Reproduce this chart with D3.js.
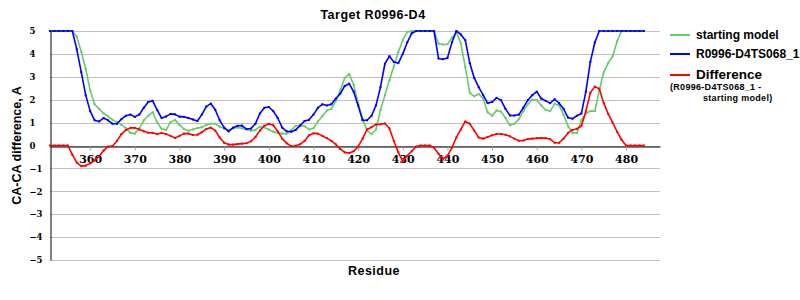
<!DOCTYPE html>
<html>
<head>
<meta charset="utf-8">
<script src="https://d3js.org/d3.v7.min.js"></script>
<style>
  body { margin: 0; background: #fff; }
  svg { display: block; }
  .sans { font-family: "Liberation Sans", Arial, sans-serif; font-weight: bold; }
  .serif { font-family: "DejaVu Serif", serif; font-weight: bold; }
</style>
</head>
<body>
<div id="chart"></div>
<script>
// Chart data
// ==============================
var firstResidue = 351;
var xTicks = [360, 370, 380, 390, 400, 410, 420, 430, 440, 450, 460, 470, 480];
var yTicks = [-5, -4, -3, -2, -1, 0, 1, 2, 3, 4, 5];

var startingModel = [
  5, 5, 5, 5, 5, 5, 4.75, 4.1, 3.35, 2.4,
  1.8, 1.6, 1.4, 1.27, 1.12, 1.02, 0.9, 0.76, 0.55, 0.52,
  0.75, 1.1, 1.3, 1.45, 1.0, 0.73, 0.68, 1.02, 1.12, 0.9,
  0.72, 0.64, 0.7, 0.76, 0.8, 0.9, 0.95, 0.95, 0.82, 0.74,
  0.67, 0.75, 0.79, 0.75, 0.7, 0.65, 0.68, 0.82, 0.79, 0.7,
  0.6, 0.55, 0.52, 0.52, 0.66, 0.85, 0.87, 0.84, 0.7, 0.75,
  1.05, 1.28, 1.53, 1.6, 1.95, 2.4, 2.95, 3.12, 2.65, 1.85,
  1.15, 0.65, 0.5, 0.7, 1.55, 2.2, 2.85, 3.45, 4.08, 4.6,
  4.95, 5, 5, 5, 5, 5, 5, 4.45, 4.41, 4.42,
  4.7, 4.95, 4.45, 3.42, 2.3, 2.15, 2.25, 2.05, 1.45, 1.3,
  1.53, 1.48, 1.2, 0.88, 0.95, 1.15, 1.5, 1.8, 2.0, 1.98,
  1.75, 1.55, 1.5, 1.82, 1.75, 1.35, 0.85, 0.55, 0.55, 1.1,
  1.4, 1.5, 1.5, 2.4, 3.2, 3.6, 3.9, 4.55, 5, 5,
  5, 5, 5, 5
];

var model = [
  5, 5, 5, 5, 5, 5, 4.2, 3.2, 2.2, 1.5,
  1.1, 1.05, 1.2, 1.1, 0.95, 0.95, 1.15, 1.3, 1.35, 1.25,
  1.35, 1.65, 1.9, 1.95, 1.55, 1.2, 1.27, 1.38, 1.36, 1.26,
  1.25, 1.2, 1.14, 1.07, 1.35, 1.7, 1.83, 1.56, 1.1, 0.78,
  0.62, 0.78, 0.86, 0.87, 0.72, 0.74, 0.95, 1.4, 1.65, 1.68,
  1.5, 1.2, 0.78, 0.62, 0.6, 0.68, 0.87, 1.07, 1.12, 1.35,
  1.65, 1.8, 1.75, 1.8, 2.05, 2.26, 2.6, 2.7, 2.35, 1.75,
  1.1, 1.1, 1.3, 1.75, 2.55, 3.57, 3.9, 3.65, 3.6, 4.0,
  4.5, 4.9, 5, 5, 5, 5, 5, 3.8, 3.77, 3.82,
  4.5, 5, 4.85, 4.6, 3.6, 2.95, 2.55, 2.2, 1.85, 1.9,
  2.08, 1.98, 1.6, 1.31, 1.31, 1.35, 1.65, 1.98, 2.2, 2.35,
  2.05, 1.95, 1.85, 2.02, 1.85, 1.6, 1.22, 1.17, 1.3, 1.4,
  2.35, 3.65, 4.5, 5, 5, 5, 5, 5, 5, 5,
  5, 5, 5, 5
];

var difference = [
  0, 0, 0, 0, 0, -0.4, -0.75, -0.9, -0.88, -0.78,
  -0.65, -0.47, -0.22, -0.05, -0.02, 0.2, 0.5, 0.68, 0.77, 0.77,
  0.7, 0.62, 0.56, 0.55, 0.5, 0.55, 0.5, 0.42, 0.33, 0.42,
  0.52, 0.52, 0.46, 0.47, 0.58, 0.72, 0.78, 0.65, 0.35, 0.12,
  0.04, 0.04, 0.06, 0.08, 0.1, 0.18, 0.37, 0.65, 0.86, 0.95,
  0.88, 0.62, 0.3, 0.1, -0.03, -0.01, 0.05, 0.2, 0.45, 0.53,
  0.52, 0.42, 0.32, 0.2, 0.05, -0.15, -0.3, -0.33, -0.25, -0.05,
  0.3, 0.7, 0.8, 0.92, 0.93, 0.96, 0.75, 0.2, -0.3, -0.7,
  -0.45, -0.25, -0.05, 0, 0, 0, -0.1, -0.36, -0.58, -0.45,
  -0.1, 0.35, 0.7, 1.05, 0.95, 0.65, 0.35, 0.3, 0.37, 0.45,
  0.5, 0.5, 0.47, 0.4, 0.3, 0.21, 0.22, 0.28, 0.3, 0.32,
  0.33, 0.32, 0.28, 0.12, 0.12, 0.3, 0.55, 0.68, 0.73, 0.85,
  1.5, 2.3, 2.57, 2.48, 1.85, 1.38, 1.0, 0.6, 0.25, 0,
  0, 0, 0, 0
];

var seriesNames = ["starting model", "R0996-D4TS068_1", "Difference"];
var seriesColors = ["#66cc66", "#0000ff", "#ff0000"];

// Define SVG Area
// ==============================
var svgWidth = 800;
var svgHeight = 300;

var plot = { left: 50, right: 660, top: 31, bottom: 260 };

var svg = d3.select("#chart")
  .append("svg")
  .attr("width", svgWidth)
  .attr("height", svgHeight);

// Scales
// ==============================
var xScale = d3.scaleLinear()
  .domain([351, 487.6])
  .range([plot.left, plot.right]);

var yScale = d3.scaleLinear()
  .domain([-5, 5])
  .range([plot.bottom, plot.top]);

// Gridlines
// ==============================
svg.append("g")
  .selectAll("line")
  .data(yTicks)
  .enter()
  .append("line")
  .attr("x1", plot.left)
  .attr("x2", plot.right)
  .attr("y1", d => Math.round(yScale(d)) + 0.5)
  .attr("y2", d => Math.round(yScale(d)) + 0.5)
  .attr("stroke", "#c0c0c0")
  .attr("stroke-width", 1);

// Axes
// ==============================
var xAxis = d3.axisBottom(xScale)
  .tickValues(xTicks)
  .tickSize(4)
  .tickSizeOuter(0)
  .tickPadding(5);

var xAxisGroup = svg.append("g")
  .attr("transform", `translate(0, ${Math.round(yScale(0)) + 0.5})`)
  .call(xAxis);

xAxisGroup.select(".domain").attr("stroke", "#000");
xAxisGroup.selectAll(".tick line").attr("stroke", "#a0a0a0");
xAxisGroup.selectAll("text")
  .attr("class", "serif")
  .attr("font-size", "11px")
  .attr("fill", "#000");

var yAxis = d3.axisLeft(yScale)
  .tickValues(yTicks)
  .tickSize(0)
  .tickPadding(0);

var yAxisGroup = svg.append("g")
  .attr("transform", `translate(${plot.left + 0.5}, 0)`)
  .call(yAxis);

yAxisGroup.select(".domain").attr("stroke", "#000");
yAxisGroup.selectAll("text")
  .attr("class", "serif")
  .attr("font-size", "8.5px")
  .attr("fill", "#000")
  .attr("text-anchor", "start")
  .attr("x", -21);

// Lines
// ==============================
var allSeries = [startingModel, model, difference];

var line = d3.line()
  .x((d, i) => xScale(firstResidue + i))
  .y(d => yScale(d));

allSeries.forEach(function(values, k) {
  svg.append("path")
    .datum(values)
    .attr("fill", "none")
    .attr("stroke", seriesColors[k])
    .attr("stroke-width", 1.6)
    .attr("stroke-linejoin", "round")
    .attr("d", line);

  svg.append("g")
    .selectAll("rect")
    .data(values)
    .enter()
    .append("rect")
    .attr("x", (d, i) => xScale(firstResidue + i) - 1)
    .attr("y", d => yScale(d) - 1)
    .attr("width", 2)
    .attr("height", 2)
    .attr("fill", seriesColors[k]);
});

// Titles
// ==============================
svg.append("text")
  .attr("class", "sans")
  .attr("x", 373)
  .attr("y", 19)
  .attr("text-anchor", "middle")
  .attr("font-size", "12.5px")
  .attr("letter-spacing", "0.5px")
  .text("Target R0996-D4");

svg.append("text")
  .attr("class", "sans")
  .attr("transform", `translate(21, ${(plot.top + plot.bottom) / 2}) rotate(-90)`)
  .attr("text-anchor", "middle")
  .attr("font-size", "12.5px")
  .text("CA-CA difference, A");

svg.append("text")
  .attr("class", "sans")
  .attr("x", 374)
  .attr("y", 275)
  .attr("text-anchor", "middle")
  .attr("font-size", "12.5px")
  .attr("letter-spacing", "0.5px")
  .text("Residue");

// Legend
// ==============================
var legendY = [35, 54, 75];
var legendSize = ["12px", "12px", "13.5px"];

seriesNames.forEach(function(name, k) {
  svg.append("line")
    .attr("x1", 670)
    .attr("x2", 690)
    .attr("y1", legendY[k])
    .attr("y2", legendY[k])
    .attr("stroke", seriesColors[k])
    .attr("stroke-width", 2);

  svg.append("rect")
    .attr("x", 679)
    .attr("y", legendY[k] - 1)
    .attr("width", 2)
    .attr("height", 2)
    .attr("fill", seriesColors[k]);

  svg.append("text")
    .attr("class", "sans")
    .attr("x", 696)
    .attr("y", legendY[k] + 4)
    .attr("font-size", legendSize[k])
    .text(name);
});

svg.append("text")
  .attr("class", "sans")
  .attr("x", 670)
  .attr("y", 90)
  .attr("font-size", "9px")
  .attr("letter-spacing", "0.3px")
  .text("(R0996-D4TS068_1 -");

svg.append("text")
  .attr("class", "sans")
  .attr("x", 703)
  .attr("y", 101)
  .attr("font-size", "9px")
  .attr("letter-spacing", "0.3px")
  .text("starting model)");
</script>
</body>
</html>
